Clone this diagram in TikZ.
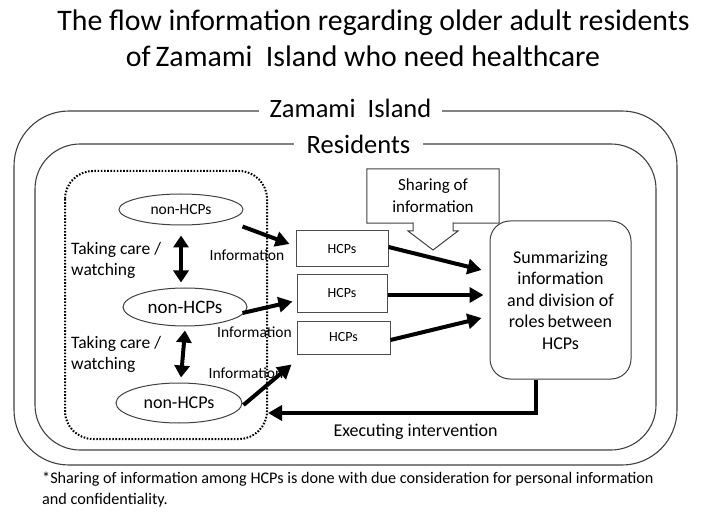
\documentclass[tikz,border=0pt]{standalone}
\usepackage{fontspec}
\setmainfont{Carlito}
\usetikzlibrary{arrows.meta,calc,shapes.geometric}
\begin{document}
\begin{tikzpicture}[x=1pt,y=-1pt,
  frame/.style={draw=black!75, line width=1.1pt},
  ell/.style={ellipse, draw=black!75, line width=1pt, inner sep=0pt},
  hcp/.style={draw=black!70, line width=1pt, inner sep=0pt, font=\fontsize{14}{16}\selectfont},
  big/.style={font=\fontsize{26.5}{30}\selectfont, fill=white, inner ysep=0pt},
  arr/.style={line width=4pt, -{Triangle[length=14pt,width=15pt]}},
  darr/.style={line width=4pt, {Triangle[length=12pt,width=15pt]}-{Triangle[length=12pt,width=15pt]}},
  care/.style={align=left, anchor=west, font=\fontsize{17.5}{21}\selectfont, inner sep=0pt},
  info/.style={font=\fontsize{15.5}{18}\selectfont, inner sep=0pt},
]
\useasboundingbox (0,0) rectangle (706,518);
% title
\node[font=\fontsize{29.8}{34}\selectfont] (t1) at (373.5,23) {The flow information regarding older adult residents};
\node[font=\fontsize{29.8}{34}\selectfont] (t2) at (363,56) {of\,Zamami\ \ Island who need healthcare};
% frames
\draw[frame, rounded corners=55pt] (14,111) rectangle (677,465);
\node[big, inner xsep=11pt] (zi) at (350.5,108) {Zamami\ \ Island};
\draw[frame, rounded corners=45pt] (35,144) rectangle (656,450);
\node[big, inner xsep=13pt] (res) at (358.5,144) {Residents};
\draw[line width=2pt, dash pattern=on 1.6pt off 1.6pt, rounded corners=28pt] (65,171) rectangle (267,439);
% non-HCPs
\node[ell, minimum width=124pt, minimum height=31pt, font=\fontsize{15.5}{18}\selectfont] (e1) at (181,209.5) {non-HCPs};
\node[ell, minimum width=124pt, minimum height=38pt, font=\fontsize{19}{22}\selectfont] (e2) at (185,307) {non-HCPs};
\node[ell, minimum width=126pt, minimum height=40pt, font=\fontsize{18}{21}\selectfont] (e3) at (179,403) {non-HCPs};
% HCPs
\node[hcp, minimum width=92pt, minimum height=36pt] (h1) at (342,249) {HCPs};
\node[hcp, minimum width=90pt, minimum height=37pt] (h2) at (342,293.5) {HCPs};
\node[hcp, minimum width=93pt, minimum height=33pt] (h3) at (343.5,337.5) {HCPs};
% sharing of information callout
\node[align=center, font=\fontsize{17}{22}\selectfont, minimum width=132pt, minimum height=54pt, inner sep=0pt] (sh) at (433,196) {Sharing of\\information};
\draw[draw=black!75, line width=1pt] (sh.north west) -- (sh.north east) -- (sh.south east) -- (453,223) -- (453,231) -- (458,231) -- (433,250) -- (408,231) -- (413,231) -- (413,223) -- (sh.south west) -- cycle;
% summarizing
\node[draw=black!75, line width=1pt, rounded corners=20pt, minimum width=141pt, minimum height=158pt, align=center, font=\fontsize{18}{21.5}\selectfont, inner sep=0pt] (sum) at (560.5,300) {Summarizing\\information\\and division of\\roles\,between\\HCPs};
% care labels
\node[care] (c1) at (71,260.5) {Taking care /\\watching};
\node[care] (c2) at (71,354) {Taking care /\\watching};
\draw[darr] ([yshift=-10pt]e1.south) -- ([xshift=-4pt,yshift=5pt]e2.north);
\draw[darr] ([yshift=-4pt]e2.south) -- ([xshift=2pt,yshift=5pt]e3.north);
% information arrows
\draw[arr] ([xshift=-1pt,yshift=-17pt]e1.east) -- ([xshift=-6pt,yshift=5pt]h1.west);
\draw[arr] ([xshift=-5pt,yshift=-6pt]e2.east) -- ([xshift=-4pt,yshift=-8pt]h2.west);
\draw[arr] ([xshift=1pt,yshift=-2pt]e3.east) -- ([xshift=-5pt,yshift=-27pt]h3.west);
\node[info] (i1) at (247,255) {Information};
\node[info] (i2) at (254.5,332) {Information};
\node[info] (i3) at (246,373) {Information};
% to summarizing
\draw[arr] ([yshift=2pt]h1.east) -- ([xshift=-8pt,yshift=30pt]sum.west);
\draw[arr] ([yshift=-1.5pt]h2.east) -- ([xshift=-6pt,yshift=5pt]sum.west);
\draw[arr] ([xshift=0pt,yshift=-2.5pt]h3.east) -- ([xshift=-8pt,yshift=-18pt]sum.west);
% executing intervention
\coordinate (dr) at (268,413);
\draw[line width=4pt, -{Triangle[length=14pt,width=15pt]}] ([xshift=-24.5pt]sum.south) |- (dr);
\node[font=\fontsize{18}{21}\selectfont, inner sep=0pt] (ex) at (415.5,432) {Executing intervention};
% footnote
\node[align=left, anchor=north west, font=\fontsize{16.2}{20.5}\selectfont, inner sep=0pt] (fn) at (42,472) {*Sharing of information among HCPs is done with due consideration for personal information\\and confidentiality.};
\end{tikzpicture}
\end{document}
